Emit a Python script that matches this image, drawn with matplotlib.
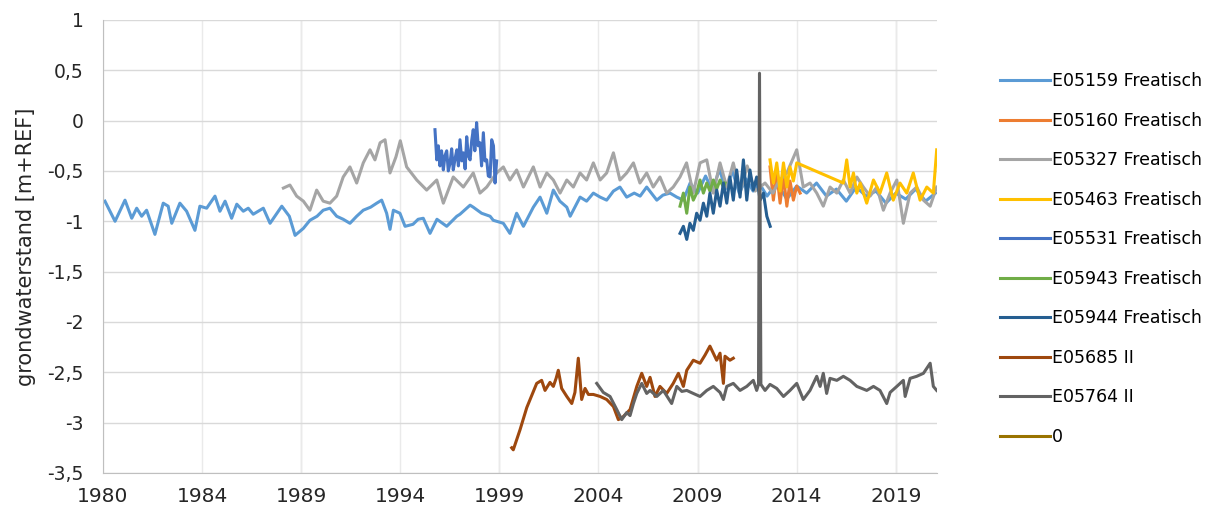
import numpy as np
import pandas as pd
import matplotlib
matplotlib.use("Agg")
import matplotlib.pyplot as plt
import matplotlib.dates as mdates
from matplotlib.ticker import FixedLocator, FuncFormatter

plt.rcParams['font.family'] = ['DejaVu Sans']
plt.rcParams['axes.unicode_minus'] = False

# groundwater heads [m+REF], time as decimal year
e05159_t = [1980.10, 1980.61, 1981.11, 1981.45, 1981.70, 1981.95, 1982.20, 1982.62, 1983.04, 1983.29,
            1983.47, 1983.88, 1984.22, 1984.64, 1984.89, 1985.23, 1985.65, 1985.90, 1986.16, 1986.49,
            1986.75, 1987.08, 1987.33, 1987.58, 1988.09, 1988.43, 1989.02, 1989.40, 1989.69, 1990.11,
            1990.44, 1990.80, 1991.11, 1991.45, 1991.79, 1992.12, 1992.46, 1992.80, 1993.13, 1993.50,
            1993.81, 1994.06, 1994.31, 1994.48, 1994.65, 1994.98, 1995.24, 1995.64, 1995.90, 1996.16,
            1996.50, 1996.85, 1997.34, 1997.85, 1998.01, 1998.52, 1998.68, 1999.10, 1999.53, 1999.69,
            2000.20, 2000.53, 2000.87, 2001.21, 2001.71, 2002.05, 2002.39, 2002.72, 2003.05, 2003.40,
            2003.57, 2004.07, 2004.40, 2004.74, 2005.08, 2005.41, 2005.75, 2006.08, 2006.42, 2006.80,
            2007.10, 2007.43, 2007.94, 2008.25, 2008.61, 2008.95, 2009.28, 2009.62, 2010.00, 2010.40,
            2010.75, 2011.10, 2011.40, 2011.75, 2012.10, 2012.45, 2012.80, 2013.10, 2013.50, 2014.00,
            2014.50, 2015.00, 2015.50, 2016.00, 2016.50, 2017.00, 2017.50, 2018.00, 2018.50, 2019.00,
            2019.50, 2020.00, 2020.50, 2021.00, 2021.50, 2022.00]
e05159_v = [-0.80, -1.00, -0.79, -0.97, -0.87, -0.95, -0.89, -1.13, -0.82, -0.85,
            -1.02, -0.82, -0.90, -1.09, -0.85, -0.87, -0.75, -0.90, -0.80, -0.97,
            -0.83, -0.90, -0.87, -0.93, -0.87, -1.02, -0.85, -0.95, -1.14, -1.07,
            -0.99, -0.95, -0.89, -0.87, -0.95, -0.98, -1.02, -0.95, -0.89, -0.86,
            -0.82, -0.79, -0.92, -1.08, -0.89, -0.92, -1.05, -1.03, -0.98, -0.97,
            -1.12, -0.98, -1.05, -0.95, -0.93, -0.84, -0.86, -0.92, -0.95, -0.99,
            -1.02, -1.12, -0.92, -1.05, -0.86, -0.76, -0.92, -0.69, -0.80, -0.86,
            -0.95, -0.76, -0.80, -0.72, -0.76, -0.79, -0.70, -0.66, -0.76, -0.72,
            -0.75, -0.66, -0.79, -0.74, -0.72, -0.76, -0.79, -0.62, -0.72, -0.55,
            -0.70, -0.48, -0.68, -0.50, -0.72, -0.58, -0.70, -0.62, -0.75, -0.62,
            -0.78, -0.65, -0.72, -0.62, -0.75, -0.68, -0.80, -0.66, -0.75, -0.70,
            -0.82, -0.72, -0.78, -0.68, -0.80, -0.72]

e05160_t = [2013.65, 2013.82, 2013.99, 2014.16, 2014.33, 2014.50, 2014.66, 2014.83, 2015.00, 2015.17]
e05160_v = [-0.46, -0.79, -0.52, -0.82, -0.55, -0.85, -0.60, -0.79, -0.65, -0.72]

e05327_t = [1989.10, 1989.43, 1989.77, 1990.11, 1990.44, 1990.78, 1991.11, 1991.45, 1991.79, 1992.12,
            1992.46, 1992.80, 1993.13, 1993.47, 1993.72, 1993.98, 1994.23, 1994.48, 1994.78, 1995.00,
            1995.32, 1995.83, 1996.33, 1996.84, 1997.17, 1997.67, 1998.18, 1998.68, 1999.02, 1999.36,
            1999.86, 2000.20, 2000.53, 2000.87, 2001.21, 2001.71, 2002.05, 2002.39, 2002.72, 2003.06,
            2003.40, 2003.73, 2004.07, 2004.40, 2004.74, 2005.08, 2005.41, 2005.75, 2006.08, 2006.42,
            2006.76, 2007.09, 2007.43, 2007.76, 2008.10, 2008.44, 2008.77, 2009.11, 2009.44, 2009.78,
            2010.12, 2010.46, 2010.79, 2011.13, 2011.47, 2011.80, 2012.14, 2012.50, 2012.90, 2013.40,
            2013.80, 2014.10, 2014.50, 2015.00, 2015.33, 2015.67, 2016.01, 2016.34, 2016.68, 2017.02,
            2017.35, 2017.69, 2018.03, 2018.36, 2018.70, 2019.04, 2019.37, 2019.71, 2020.05, 2020.38,
            2020.72, 2021.05, 2021.39, 2021.73, 2022.06]
e05327_v = [-0.67, -0.64, -0.75, -0.80, -0.89, -0.69, -0.80, -0.82, -0.75, -0.56,
            -0.46, -0.62, -0.42, -0.29, -0.39, -0.22, -0.19, -0.52, -0.36, -0.20,
            -0.46, -0.59, -0.69, -0.59, -0.82, -0.56, -0.66, -0.52, -0.72, -0.66,
            -0.52, -0.46, -0.59, -0.49, -0.66, -0.46, -0.66, -0.52, -0.59, -0.72,
            -0.59, -0.66, -0.52, -0.59, -0.42, -0.59, -0.52, -0.32, -0.59, -0.52,
            -0.42, -0.62, -0.52, -0.66, -0.56, -0.72, -0.66, -0.56, -0.42, -0.72,
            -0.42, -0.39, -0.72, -0.42, -0.66, -0.42, -0.72, -0.45, -0.70, -0.62,
            -0.72, -0.60, -0.52, -0.29, -0.66, -0.62, -0.72, -0.85, -0.66, -0.72,
            -0.59, -0.72, -0.56, -0.66, -0.75, -0.66, -0.89, -0.72, -0.59, -1.02,
            -0.72, -0.66, -0.79, -0.85, -0.66]

e05463_t = [2013.65, 2013.82, 2013.99, 2014.16, 2014.33, 2014.50, 2014.66, 2014.83, 2015.00, 2017.35,
            2017.52, 2017.69, 2017.86, 2018.03, 2018.20, 2018.53, 2018.87, 2019.20, 2019.54, 2019.87,
            2020.21, 2020.55, 2020.88, 2021.22, 2021.56, 2021.89, 2022.06]
e05463_v = [-0.39, -0.62, -0.42, -0.70, -0.42, -0.66, -0.46, -0.60, -0.42, -0.62,
            -0.39, -0.66, -0.52, -0.72, -0.62, -0.82, -0.59, -0.72, -0.52, -0.79,
            -0.62, -0.72, -0.52, -0.79, -0.66, -0.72, -0.29]

e05531_t = [1996.75, 1996.84, 1996.92, 1997.00, 1997.08, 1997.17, 1997.25, 1997.34, 1997.42, 1997.51,
            1997.59, 1997.67, 1997.76, 1997.85, 1997.93, 1998.01, 1998.10, 1998.18, 1998.27, 1998.35,
            1998.43, 1998.52, 1998.60, 1998.68, 1998.76, 1998.85, 1998.93, 1999.02, 1999.10, 1999.19,
            1999.27, 1999.36, 1999.44, 1999.53, 1999.61, 1999.70, 1999.78, 1999.86]
e05531_v = [-0.09, -0.39, -0.25, -0.45, -0.30, -0.49, -0.35, -0.30, -0.50, -0.42,
            -0.28, -0.49, -0.38, -0.29, -0.45, -0.19, -0.40, -0.32, -0.48, -0.16,
            -0.35, -0.39, -0.20, -0.09, -0.30, -0.02, -0.25, -0.22, -0.45, -0.12,
            -0.40, -0.39, -0.55, -0.56, -0.19, -0.25, -0.62, -0.40]

e05943_t = [2009.11, 2009.28, 2009.45, 2009.61, 2009.78, 2009.95, 2010.12, 2010.29, 2010.46, 2010.62,
            2010.79, 2010.96, 2011.13, 2011.30, 2011.38]
e05943_v = [-0.85, -0.72, -0.92, -0.66, -0.79, -0.72, -0.59, -0.72, -0.62, -0.70,
            -0.59, -0.68, -0.59, -0.66, -0.62]

e05944_t = [2009.11, 2009.28, 2009.45, 2009.61, 2009.78, 2009.95, 2010.12, 2010.29, 2010.46, 2010.62,
            2010.79, 2010.96, 2011.13, 2011.30, 2011.47, 2011.63, 2011.80, 2011.97, 2012.14, 2012.31,
            2012.48, 2012.64, 2012.81, 2012.98, 2013.15, 2013.32, 2013.49, 2013.66]
e05944_v = [-1.12, -1.05, -1.18, -1.02, -1.09, -0.92, -0.99, -0.82, -0.95, -0.72,
            -0.92, -0.69, -0.85, -0.62, -0.82, -0.56, -0.79, -0.49, -0.76, -0.39,
            -0.79, -0.49, -0.69, -0.56, -0.79, -0.72, -0.95, -1.05]

e05685_t = [2000.62, 2000.70, 2001.04, 2001.38, 2001.88, 2002.13, 2002.30, 2002.55, 2002.72, 2002.86,
            2002.97, 2003.14, 2003.40, 2003.65, 2003.81, 2003.98, 2004.15, 2004.32, 2004.49, 2004.74,
            2005.08, 2005.41, 2005.75, 2006.00, 2006.25, 2006.59, 2006.93, 2007.18, 2007.43, 2007.60,
            2007.85, 2008.10, 2008.44, 2008.77, 2009.03, 2009.28, 2009.45, 2009.78, 2010.12, 2010.37,
            2010.62, 2010.96, 2011.13, 2011.30, 2011.38, 2011.63, 2011.80]
e05685_v = [-3.25, -3.27, -3.07, -2.85, -2.61, -2.58, -2.68, -2.60, -2.64, -2.56,
            -2.48, -2.66, -2.74, -2.81, -2.70, -2.36, -2.77, -2.66, -2.72, -2.72,
            -2.74, -2.77, -2.84, -2.97, -2.94, -2.87, -2.64, -2.51, -2.64, -2.55,
            -2.74, -2.64, -2.71, -2.61, -2.51, -2.64, -2.48, -2.38, -2.41, -2.33,
            -2.24, -2.38, -2.31, -2.61, -2.34, -2.38, -2.36]

e05764_t = [2004.91, 2005.24, 2005.58, 2005.92, 2006.17, 2006.42, 2006.59, 2006.76, 2006.93, 2007.18,
            2007.43, 2007.60, 2007.94, 2008.27, 2008.69, 2008.95, 2009.20, 2009.45, 2009.78, 2010.12,
            2010.46, 2010.79, 2011.13, 2011.30, 2011.47, 2011.80, 2012.14, 2012.48, 2012.81, 2012.98,
            2013.07, 2013.12, 2013.19, 2013.40, 2013.65, 2013.99, 2014.33, 2014.66, 2015.00, 2015.33,
            2015.67, 2016.01, 2016.18, 2016.34, 2016.51, 2016.68, 2017.02, 2017.35, 2017.69, 2018.03,
            2018.53, 2018.87, 2019.20, 2019.54, 2019.71, 2020.05, 2020.38, 2020.47, 2020.72, 2021.05,
            2021.39, 2021.73, 2021.89, 2022.06]
e05764_v = [-2.61, -2.70, -2.74, -2.87, -2.97, -2.90, -2.93, -2.81, -2.71, -2.61,
            -2.71, -2.68, -2.74, -2.68, -2.81, -2.64, -2.69, -2.68, -2.71, -2.74,
            -2.68, -2.64, -2.70, -2.77, -2.64, -2.61, -2.68, -2.64, -2.58, -2.68,
            -2.62, 0.47, -2.62, -2.68, -2.62, -2.66, -2.74, -2.68, -2.61, -2.77,
            -2.68, -2.54, -2.64, -2.51, -2.71, -2.56, -2.58, -2.54, -2.58, -2.64,
            -2.68, -2.64, -2.68, -2.81, -2.70, -2.64, -2.58, -2.74, -2.56, -2.54,
            -2.51, -2.41, -2.64, -2.68]

series = [
    ("E05159 Freatisch", e05159_t, e05159_v, "#5B9BD5"),
    ("E05160 Freatisch", e05160_t, e05160_v, "#ED7D31"),
    ("E05327 Freatisch", e05327_t, e05327_v, "#A5A5A5"),
    ("E05463 Freatisch", e05463_t, e05463_v, "#FFC000"),
    ("E05531 Freatisch", e05531_t, e05531_v, "#4472C4"),
    ("E05943 Freatisch", e05943_t, e05943_v, "#70AD47"),
    ("E05944 Freatisch", e05944_t, e05944_v, "#255E91"),
    ("E05685 II", e05685_t, e05685_v, "#9E480E"),
    ("E05764 II", e05764_t, e05764_v, "#636363"),
    ("0", [], [], "#997300"),
]


def to_dates(years):
    out = []
    for y in years:
        yi = int(np.floor(y))
        out.append(pd.Timestamp(year=yi, month=1, day=1) + pd.Timedelta(days=(y - yi) * 365.25))
    return out


fig = plt.figure(figsize=(12.17, 5.11), dpi=100)
ax = fig.add_axes([0.0846, 0.0744, 0.6854, 0.8866])

for name, t, v, col in series:
    ax.plot(to_dates(t), v, color=col, lw=2.2, label=name, solid_joinstyle='round')

start = pd.Timestamp("1980-01-01")
ticks = [start + pd.Timedelta(days=1826 * k) for k in range(9)]
ax.xaxis.set_major_locator(FixedLocator(mdates.date2num(ticks)))
ax.xaxis.set_major_formatter(mdates.DateFormatter('%Y'))
ax.set_xlim(start, to_dates([2022.08])[0])

ax.set_ylim(-3.5, 1)
ax.set_yticks(np.arange(-3.5, 1.01, 0.5))
ax.yaxis.set_major_formatter(FuncFormatter(lambda v, p: f"{v:g}".replace('.', ',')))

ax.grid(axis='y', color='#D9D9D9', lw=1)
ax.grid(axis='x', color='#EAEAEA', lw=1)
for tk in ticks[2::2]:
    ax.axvline(tk, color='#C8C8C8', lw=0.9, zorder=0.5)
ax.set_axisbelow(True)

for s in ['top', 'right']:
    ax.spines[s].set_visible(False)
for s in ['left', 'bottom']:
    ax.spines[s].set_color('#BFBFBF')
ax.tick_params(axis='both', length=0, colors='#262626')
ax.tick_params(axis='x', labelsize=14.5, pad=10)
ax.tick_params(axis='y', labelsize=13.5, pad=14)
ax.set_ylabel("grondwaterstand [m+REF]", fontsize=15, color='#262626', labelpad=8)

fig.legend(loc='center left', bbox_to_anchor=(0.8216, 0.493), frameon=False,
           fontsize=12.5, handlelength=2.9, handletextpad=0.12, labelspacing=1.24,
           borderaxespad=0, borderpad=0)

fig.savefig("out.png", dpi=100, facecolor='white')
